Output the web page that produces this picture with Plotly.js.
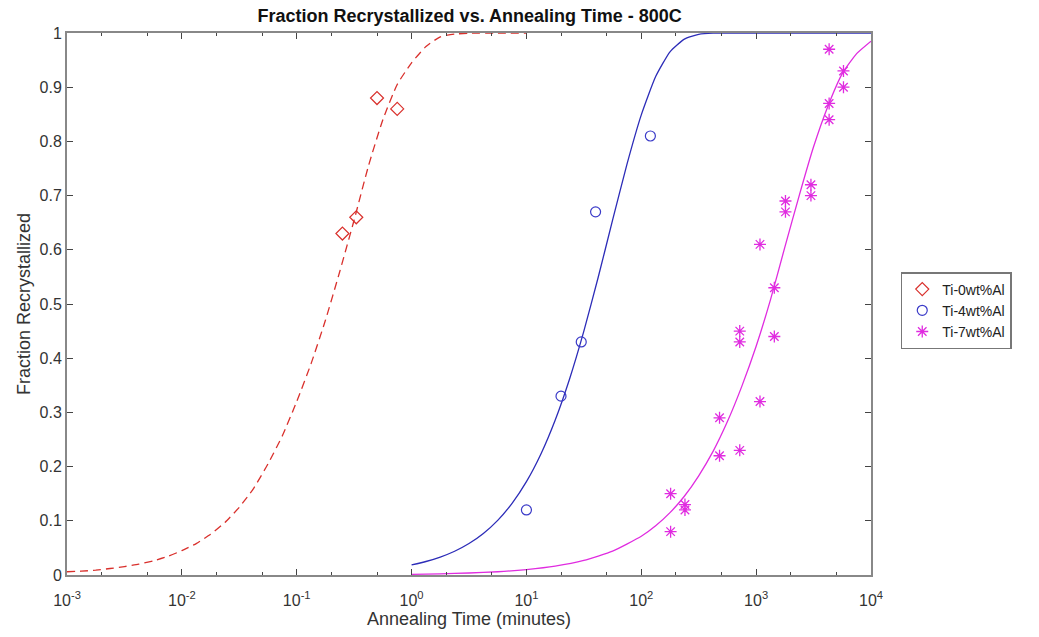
<!DOCTYPE html>
<html>
<head>
<meta charset="utf-8">
<script src="https://cdn.plot.ly/plotly-3.0.1.min.js"></script>
<style>html,body{margin:0;padding:0;background:#fff;}#chart{width:1039px;height:637px;}</style>
</head>
<body>
<div id="chart"></div>
<script>
// Measured data points
const ti0Time = [0.25, 0.33, 0.5, 0.75];
const ti0Frac = [0.63, 0.66, 0.88, 0.86];
const ti4Time = [10, 20, 30, 40, 120];
const ti4Frac = [0.12, 0.33, 0.43, 0.67, 0.81];
const ti7Time = [180, 180, 240, 240, 480, 480, 720, 720, 720, 1080, 1080, 1440, 1440, 1800, 1800, 3000, 3000, 4320, 4320, 4320, 5760, 5760];
const ti7Frac = [0.15, 0.08, 0.13, 0.12, 0.29, 0.22, 0.45, 0.43, 0.23, 0.61, 0.32, 0.53, 0.44, 0.69, 0.67, 0.72, 0.70, 0.97, 0.87, 0.84, 0.93, 0.90];

// Fitted curves, values (time in minutes, fraction)
const fit0Time = [0.001, 0.001334, 0.001778, 0.002371, 0.003162, 0.004217, 0.005623, 0.007499, 0.01, 0.01334, 0.01778, 0.02371, 0.03162, 0.04217, 0.05623, 0.07499, 0.1, 0.1334, 0.1778, 0.2371, 0.3162, 0.4217, 0.5623, 0.7499, 1, 1.334, 1.778, 2.371, 3.162, 5.623, 10];
const fit0Frac = [0.006, 0.007, 0.009, 0.012, 0.0155, 0.020, 0.026, 0.034, 0.045, 0.058, 0.075, 0.097, 0.125, 0.160, 0.205, 0.257, 0.32, 0.39, 0.47, 0.56, 0.655, 0.755, 0.84, 0.905, 0.945, 0.975, 0.993, 0.998, 0.9995, 1, 1];
const fit4Time = [1, 1.334, 1.778, 2.371, 3.162, 4.217, 5.623, 7.499, 10, 13.34, 17.78, 23.71, 31.62, 42.17, 56.23, 74.99, 100, 133.4, 177.8, 237.1, 316.2, 421.7, 562.3, 1000, 3162, 10000];
const fit4Frac = [0.0187, 0.0249, 0.0331, 0.0438, 0.058, 0.0766, 0.1008, 0.1322, 0.1722, 0.2228, 0.2855, 0.3612, 0.4499, 0.5493, 0.6546, 0.7576, 0.8489, 0.9196, 0.9653, 0.9887, 0.9975, 0.9997, 1, 1, 1, 1];
const fit7Time = [1, 1.778, 3.162, 5.623, 10, 17.78, 31.62, 56.23, 100, 133.4, 177.8, 237.1, 316.2, 421.7, 562.3, 749.9, 1000, 1334, 1778, 2371, 3162, 4217, 5623, 7499, 10000];
const fit7Frac = [0.0013, 0.0022, 0.0037, 0.006, 0.010, 0.0163, 0.0268, 0.0439, 0.0714, 0.0907, 0.115, 0.1453, 0.183, 0.228, 0.283, 0.348, 0.422, 0.508, 0.605, 0.70, 0.79, 0.865, 0.925, 0.962, 0.985];

const seriesNames = ['Ti-0wt%Al', 'Ti-4wt%Al', 'Ti-7wt%Al'];
const xTickVals = [0.001, 0.01, 0.1, 1, 10, 100, 1000, 10000];
const xTickText = ['10<sup>-3</sup>', '10<sup>-2</sup>', '10<sup>-1</sup>', '10<sup>0</sup>', '10<sup>1</sup>', '10<sup>2</sup>', '10<sup>3</sup>', '10<sup>4</sup>'];
const yTickVals = [0, 0.1, 0.2, 0.3, 0.4, 0.5, 0.6, 0.7, 0.8, 0.9, 1];
const yTickText = ['0', '0.1', '0.2', '0.3', '0.4', '0.5', '0.6', '0.7', '0.8', '0.9', '1'];

const RED = '#d9302c', BLUE = '#2c2cb8', MAG = '#e02ce0';

const traces = [
  {x: fit0Time, y: fit0Frac, mode: 'lines', line: {color: RED, width: 1.3, dash: '8px,5px', shape: 'spline', smoothing: 0.5}, showlegend: false, hoverinfo: 'skip'},
  {x: fit4Time, y: fit4Frac, mode: 'lines', line: {color: BLUE, width: 1.3, shape: 'spline', smoothing: 0.5}, showlegend: false, hoverinfo: 'skip'},
  {x: fit7Time, y: fit7Frac, mode: 'lines', line: {color: MAG, width: 1.3, shape: 'spline', smoothing: 0.5}, showlegend: false, hoverinfo: 'skip'},
  {x: ti0Time, y: ti0Frac, mode: 'markers', name: seriesNames[0], marker: {symbol: 'diamond-open', size: 10, color: RED, line: {color: RED, width: 1.2}}},
  {x: ti4Time, y: ti4Frac, mode: 'markers', name: seriesNames[1], marker: {symbol: 'circle-open', size: 10, color: '#3a3ac8', line: {color: '#3a3ac8', width: 1.2}}},
  {x: ti7Time, y: ti7Frac, mode: 'markers', name: seriesNames[2], marker: {symbol: 'asterisk-open', size: 10, color: MAG, line: {color: MAG, width: 1.3}}}
];

const FONT = 'Liberation Sans, Arial, Helvetica, sans-serif';

const layout = {
  width: 1039, height: 637,
  margin: {l: 67, r: 168, t: 33, b: 62},
  paper_bgcolor: '#ffffff', plot_bgcolor: '#ffffff',
  font: {family: FONT, color: '#333333', size: 14},
  title: {text: '<b>Fraction Recrystallized vs. Annealing Time - 800C</b>', x: 0.452, xanchor: 'center', y: 0.976, yanchor: 'middle', font: {family: FONT, size: 18, color: '#111111'}},
  xaxis: {
    type: 'log', range: [-3, 4], autorange: false,
    tickvals: xTickVals, ticktext: xTickText,
    ticks: 'inside', ticklen: 6, tickwidth: 1, tickcolor: '#444',
    minor: {ticks: 'inside', ticklen: 3, tickcolor: '#444', showgrid: false},
    showline: true, linecolor: '#888888', linewidth: 2, mirror: 'ticks',
    showgrid: false, zeroline: false,
    ticklabelstandoff: 10,
    tickfont: {family: FONT, size: 16, color: '#333'},
    title: {text: 'Annealing Time (minutes)', font: {family: FONT, size: 18, color: '#333'}, standoff: 2}
  },
  yaxis: {
    range: [0, 1], autorange: false,
    tickvals: yTickVals, ticktext: yTickText,
    ticks: 'inside', ticklen: 6, tickwidth: 1, tickcolor: '#444',
    showline: true, linecolor: '#888888', linewidth: 2, mirror: 'ticks',
    showgrid: false, zeroline: false,
    tickfont: {family: FONT, size: 16, color: '#333'},
    title: {text: 'Fraction Recrystallized', font: {family: FONT, size: 18, color: '#333'}, standoff: 4}
  },
  legend: {
    x: 1.037, xanchor: 'left', y: 0.559, yanchor: 'top',
    bordercolor: '#777777', borderwidth: 1.5, bgcolor: '#ffffff',
    font: {family: FONT, size: 14, color: '#222'},
    tracegroupgap: 0
  },
  showlegend: true
};

Plotly.newPlot('chart', traces, layout, {displayModeBar: false, staticPlot: true});
</script>
</body>
</html>
